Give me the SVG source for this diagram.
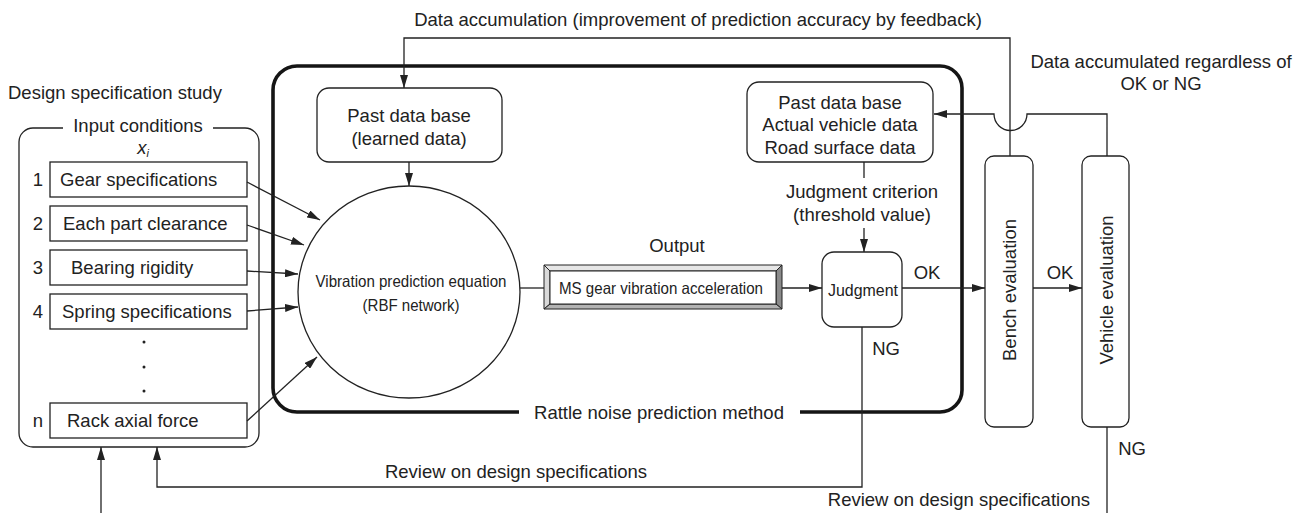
<svg xmlns="http://www.w3.org/2000/svg" width="1303" height="513" viewBox="0 0 1303 513">
  <style>
    .t{font-family:"Liberation Sans",Arial,Helvetica,sans-serif;font-size:18.5px;fill:#222}
    .n{font-size:16.5px}
    .c{text-anchor:middle}
    .e{text-anchor:end}
    .ln{fill:none;stroke:#222;stroke-width:1.3}
    .box{fill:#fff;stroke:#222;stroke-width:1.3}
    .thick{fill:none;stroke:#151515;stroke-width:3.6}
  </style>
  <defs>
    <marker id="arr" viewBox="0 0 13 8" refX="13" refY="4" markerWidth="13" markerHeight="8" orient="auto" markerUnits="userSpaceOnUse">
      <path d="M0,0 L13,4 L0,8 z" fill="#222"/>
    </marker>
  </defs>

  <rect width="1303" height="513" fill="#fff"/>

  <!-- captions -->
  <g id="captions">
    <text class="t c" x="698" y="26">Data accumulation (improvement of prediction accuracy by feedback)</text>
    <text class="t c" x="1161" y="68">Data accumulated regardless of</text>
    <text class="t c" x="1161" y="90">OK or NG</text>
    <text class="t" x="8" y="99">Design specification study</text>
  </g>

  <!-- rattle noise prediction method frame -->
  <g id="method-frame">
    <path class="thick" d="M519 412 H297 A24 24 0 0 1 273 388 V90 A24 24 0 0 1 297 66 H940 A22 22 0 0 1 962 88 V390 A22 22 0 0 1 940 412 H800"/>
    <text class="t c" x="659" y="418.5">Rattle noise prediction method</text>
  </g>

  <!-- input conditions -->
  <g id="input-conditions">
    <path class="ln" d="M63 128 H33 A14 14 0 0 0 19 142 V433 A14 14 0 0 0 33 447 H245 A14 14 0 0 0 259 433 V142 A14 14 0 0 0 245 128 H213"/>
    <text class="t c" x="138" y="131.5">Input conditions</text>
    <text class="t c" x="143" y="154" font-style="italic">x<tspan font-size="11" dy="3">i</tspan></text>
  </g>
  <g id="input-1">
    <rect class="box" x="50" y="162" width="197" height="35"/>
    <text class="t c" x="38" y="186">1</text>
    <text class="t" x="60" y="186">Gear specifications</text>
  </g>
  <g id="input-2">
    <rect class="box" x="50" y="206" width="197" height="35"/>
    <text class="t c" x="38" y="230">2</text>
    <text class="t" x="63" y="230">Each part clearance</text>
  </g>
  <g id="input-3">
    <rect class="box" x="50" y="250" width="197" height="35"/>
    <text class="t c" x="38" y="274">3</text>
    <text class="t" x="71" y="274">Bearing rigidity</text>
  </g>
  <g id="input-4">
    <rect class="box" x="50" y="294" width="197" height="35"/>
    <text class="t c" x="38" y="318">4</text>
    <text class="t" x="62" y="318">Spring specifications</text>
  </g>
  <g id="input-dots" fill="#222">
    <circle cx="144" cy="342" r="1.5"/>
    <circle cx="144" cy="367" r="1.5"/>
    <circle cx="144" cy="391" r="1.5"/>
  </g>
  <g id="input-n">
    <rect class="box" x="50" y="403" width="197" height="35"/>
    <text class="t c" x="38" y="427">n</text>
    <text class="t" x="67" y="427">Rack axial force</text>
  </g>

  <!-- learned database -->
  <g id="learned-db">
    <rect class="box" x="317" y="88" width="185" height="74" rx="12"/>
    <text class="t c" x="409" y="121.5">Past data base</text>
    <text class="t c" x="409" y="144.5">(learned data)</text>
  </g>

  <!-- prediction equation -->
  <g id="prediction-equation">
    <ellipse class="box" cx="409" cy="292" rx="111" ry="106"/>
    <text class="t n c" x="411" y="287" textLength="191" lengthAdjust="spacingAndGlyphs">Vibration prediction equation</text>
    <text class="t n c" x="411" y="311" textLength="97" lengthAdjust="spacingAndGlyphs">(RBF network)</text>
  </g>

  <!-- output -->
  <g id="output">
    <text class="t c" x="677" y="252">Output</text>
    <polygon points="544,265 782,265 776,271 550,271" fill="#e6e6e6" stroke="#222" stroke-width="1"/>
    <polygon points="544,265 550,271 550,304 544,309" fill="#d9d9d9" stroke="#222" stroke-width="1"/>
    <polygon points="782,265 782,309 776,304 776,271" fill="#8a8a8a" stroke="#222" stroke-width="1"/>
    <polygon points="544,309 550,304 776,304 782,309" fill="#b3b3b3" stroke="#222" stroke-width="1"/>
    <rect x="550" y="271" width="226" height="33" fill="#fff" stroke="#222" stroke-width="1"/>
    <text class="t n c" x="661" y="294" textLength="204" lengthAdjust="spacingAndGlyphs">MS gear vibration acceleration</text>
  </g>

  <!-- vehicle/road database -->
  <g id="vehicle-db">
    <rect class="box" x="747" y="82" width="186" height="80" rx="12"/>
    <text class="t c" x="840" y="108.5">Past data base</text>
    <text class="t c" x="840" y="130.5">Actual vehicle data</text>
    <text class="t c" x="840" y="153.5">Road surface data</text>
  </g>

  <!-- judgment -->
  <g id="judgment">
    <rect class="box" x="822" y="252" width="80" height="75" rx="12"/>
    <text class="t n c" x="863" y="296" textLength="70" lengthAdjust="spacingAndGlyphs">Judgment</text>
  </g>

  <!-- bench evaluation -->
  <g id="bench-evaluation">
    <rect class="box" x="985" y="156" width="48" height="271" rx="9"/>
    <text class="t c" transform="translate(1015.5 290) rotate(-90)">Bench evaluation</text>
  </g>

  <!-- vehicle evaluation -->
  <g id="vehicle-evaluation">
    <rect class="box" x="1082" y="156" width="47" height="271" rx="9"/>
    <text class="t c" transform="translate(1112.5 290) rotate(-90)">Vehicle evaluation</text>
  </g>

  <!-- connectors -->
  <g id="connectors">
    <path class="ln" d="M1010 156 V38 H404 V88" marker-end="url(#arr)"/>
    <path class="ln" d="M1107 156 V114 H1027 A16.5 16.5 0 0 1 994 114 H934" marker-end="url(#arr)"/>
    <path class="ln" d="M247 182 L320 220" marker-end="url(#arr)"/>
    <path class="ln" d="M247 225 L304 245" marker-end="url(#arr)"/>
    <path class="ln" d="M247 271 L298 274" marker-end="url(#arr)"/>
    <path class="ln" d="M247 311 L298 307" marker-end="url(#arr)"/>
    <path class="ln" d="M247 421 L317 357" marker-end="url(#arr)"/>
    <path class="ln" d="M409 162 V186" marker-end="url(#arr)"/>
    <path class="ln" d="M520 288 H544"/>
    <path class="ln" d="M782 288 H822" marker-end="url(#arr)"/>
    <path class="ln" d="M864 162 V178"/>
    <path class="ln" d="M864 228 V252" marker-end="url(#arr)"/>
    <path class="ln" d="M902 288 H985" marker-end="url(#arr)"/>
    <path class="ln" d="M1033 288 H1082" marker-end="url(#arr)"/>
    <path class="ln" d="M862 327 V487 H157 V447" marker-end="url(#arr)"/>
    <path class="ln" d="M1107 427 V513"/>
    <path class="ln" d="M101 513 V447" marker-end="url(#arr)"/>
  </g>

  <!-- connector labels -->
  <g id="connector-labels">
    <text class="t c" x="862" y="198">Judgment criterion</text>
    <text class="t c" x="862" y="221">(threshold value)</text>
    <text class="t c" x="927" y="279">OK</text>
    <text class="t c" x="1060" y="279">OK</text>
    <text class="t c" x="886" y="355">NG</text>
    <text class="t c" x="1132" y="455">NG</text>
    <text class="t c" x="516" y="478">Review on design specifications</text>
    <text class="t e" x="1090" y="506">Review on design specifications</text>
  </g>
</svg>
